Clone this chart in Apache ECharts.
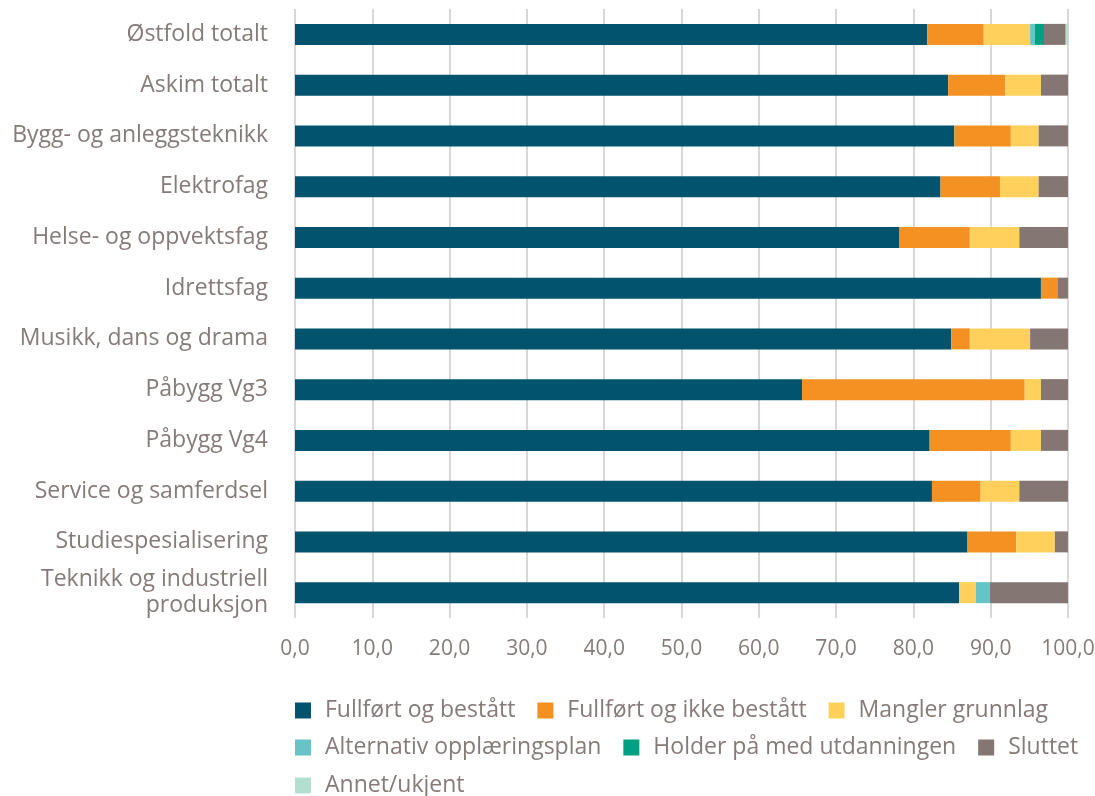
<!doctype html>
<html>
<head>
    <meta charset="utf-8">
    <title>Gjennomføring</title>
    <script src="https://cdn.jsdelivr.net/npm/echarts@6/dist/echarts.min.js"></script>
    <style>
        html, body { margin: 0; padding: 0; background: #fff; }
    </style>
</head>
<body>
    <div id="container" style="width:1095px;height:796px;"></div>
    <script type="text/javascript">
        var categories = ['Østfold totalt', 'Askim totalt', 'Bygg- og anleggsteknikk', 'Elektrofag',
            'Helse- og oppvektsfag', 'Idrettsfag', 'Musikk, dans og drama', 'Påbygg Vg3', 'Påbygg Vg4',
            'Service og samferdsel', 'Studiespesialisering', 'Teknikk og industriell\nproduksjon'];

        var fullfortBestatt = [81.8, 84.5, 85.3, 83.5, 78.2, 96.5, 84.9, 65.6, 82.1, 82.4, 87.0, 85.9];
        var fullfortIkkeBestatt = [7.3, 7.4, 7.3, 7.7, 9.1, 2.2, 2.4, 28.8, 10.5, 6.3, 6.3, 0];
        var manglerGrunnlag = [6.0, 4.6, 3.6, 5.0, 6.4, 0, 7.8, 2.1, 3.9, 5.0, 5.0, 2.2];
        var alternativPlan = [0.6, 0, 0, 0, 0, 0, 0, 0, 0, 0, 0, 1.8];
        var holderPa = [1.2, 0, 0, 0, 0, 0, 0, 0, 0, 0, 0, 0];
        var sluttet = [2.8, 3.5, 3.8, 3.8, 6.3, 1.3, 4.9, 3.5, 3.5, 6.3, 1.7, 10.1];
        var annet = [0.3, 0, 0, 0, 0, 0, 0, 0, 0, 0, 0, 0];

        var seriesNames = ['Fullført og bestått', 'Fullført og ikke bestått', 'Mangler grunnlag',
            'Alternativ opplæringsplan', 'Holder på med utdanningen', 'Sluttet', 'Annet/ukjent'];
        var seriesData = [fullfortBestatt, fullfortIkkeBestatt, manglerGrunnlag, alternativPlan, holderPa, sluttet, annet];
        var colors = ['#02546e', '#f39123', '#ffd15c', '#66c3c6', '#00a082', '#847672', '#b2dfd0'];

        var textColor = '#857b78';
        var font = 'Open Sans';

        var series = [];
        for (var i = 0; i < seriesNames.length; i++) {
            series.push({
                name: seriesNames[i],
                type: 'bar',
                stack: 'total',
                barWidth: 21,
                itemStyle: { color: colors[i] },
                data: seriesData[i]
            });
        }

        // legenden i tre rader
        function legendRow(names, top) {
            return {
                data: names,
                left: 295,
                top: top,
                padding: 0,
                orient: 'horizontal',
                icon: 'rect',
                itemWidth: 16,
                itemHeight: 16,
                itemGap: 22,
                textStyle: { color: textColor, fontSize: 23, fontFamily: font, padding: [0, 0, 0, 9] }
            };
        }

        var option = {
            animation: false,
            color: colors,
            grid: { left: 295, right: 27, top: 9, bottom: 178, outerBoundsMode: 'none', containLabel: false },
            legend: [
                legendRow(seriesNames.slice(0, 3), 699),
                legendRow(seriesNames.slice(3, 6), 736),
                legendRow(seriesNames.slice(6), 774)
            ],
            xAxis: {
                type: 'value',
                min: 0,
                max: 100,
                interval: 10,
                axisLine: { show: false },
                axisTick: { show: false },
                splitLine: { lineStyle: { color: '#dcd7d7', width: 2 } },
                axisLabel: {
                    color: textColor, fontSize: 21, fontFamily: font, margin: 21,
                    formatter: function (v) { return v.toFixed(1).replace('.', ','); }
                }
            },
            yAxis: {
                type: 'category',
                inverse: true,
                data: categories,
                axisLine: { show: false },
                axisTick: { show: false },
                axisLabel: { color: textColor, fontSize: 23, fontFamily: font, margin: 27, lineHeight: 26, align: 'right' }
            },
            series: series
        };

        var myChart = echarts.init(document.getElementById('container'));
        myChart.setOption(option);
    </script>
</body>
</html>
